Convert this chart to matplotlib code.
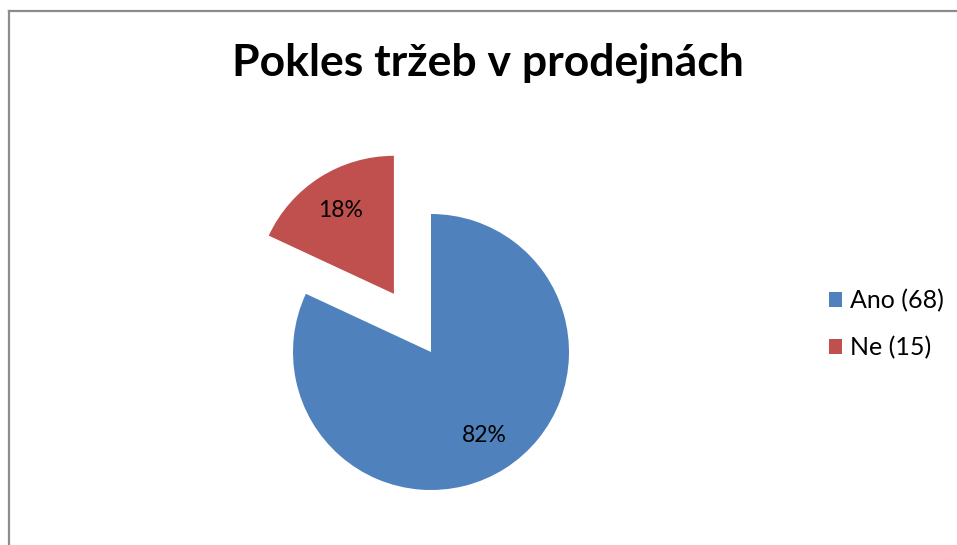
import matplotlib.pyplot as plt
from matplotlib.lines import Line2D

labels = ['Ano (68)', 'Ne (15)']
values = [68, 15]
colors = ['#4F81BD', '#C0504D']
explode = [0, 0.5]

plt.rcParams['font.family'] = ['Lato', 'DejaVu Sans']

W, H = 957, 545
fig = plt.figure(figsize=(W / 100, H / 100), dpi=100)
fig.patch.set_facecolor('white')

# pie centre (431, 352) px, radius 138 px
cx, cy, r = 431, 352, 138
ax = fig.add_axes([0, 0, 1, 1])
wedges, texts, autotexts = ax.pie(values, colors=colors, explode=explode,
                                  startangle=90, counterclock=False,
                                  autopct='%1.0f%%', pctdistance=0.72,
                                  textprops={'fontsize': 16.5, 'color': 'black'})
ax.set_xlim(-cx / r, (W - cx) / r)
ax.set_ylim(-(H - cy) / r, cy / r)
ax.set_aspect('auto')
ax.axis('off')

fig.text(488 / W, 1 - 63 / H, 'Pokles tržeb v prodejnách', ha='center', va='center',
         fontsize=32, fontweight='bold')

leg = fig.legend(wedges, labels, loc='center left', bbox_to_anchor=(806 / W, 1 - 324 / H),
                 frameon=False, fontsize=18, handlelength=0.55, handleheight=0.55,
                 handletextpad=0.3, labelspacing=0.95)

fig.add_artist(Line2D([8.5 / W, 8.5 / W], [0, 1 - 11 / H], color='#8c8c8c', lw=1.6))
fig.add_artist(Line2D([8.5 / W, 1], [1 - 11 / H, 1 - 11 / H], color='#8c8c8c', lw=1.6))

fig.savefig('out.png', dpi=100)
